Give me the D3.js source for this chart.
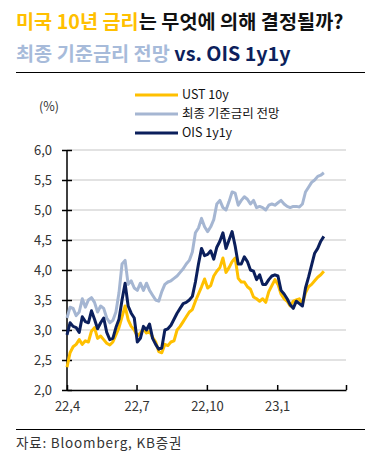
<!DOCTYPE html>
<html><head><meta charset="utf-8">
<script src="https://cdn.jsdelivr.net/npm/d3@7"></script>
<style>
html,body{margin:0;padding:0;background:#fff;}
svg{display:block;font-family:"Noto Sans CJK KR","Noto Sans",sans-serif;}
</style></head>
<body><svg id="c" width="376" height="452"></svg>
<script>
const dates = ["2022-04-01","2022-04-05","2022-04-09","2022-04-13","2022-04-17","2022-04-21","2022-04-25","2022-04-29",
"2022-05-03","2022-05-07","2022-05-11","2022-05-15","2022-05-19","2022-05-23","2022-05-27","2022-05-31",
"2022-06-04","2022-06-08","2022-06-12","2022-06-16","2022-06-20","2022-06-24","2022-06-28",
"2022-07-02","2022-07-06","2022-07-10","2022-07-14","2022-07-18","2022-07-22","2022-07-26","2022-07-30",
"2022-08-03","2022-08-07","2022-08-11","2022-08-15","2022-08-19","2022-08-23","2022-08-27","2022-08-31",
"2022-09-04","2022-09-08","2022-09-12","2022-09-16","2022-09-20","2022-09-24","2022-09-28",
"2022-10-02","2022-10-06","2022-10-10","2022-10-14","2022-10-18","2022-10-22","2022-10-26","2022-10-30",
"2022-11-03","2022-11-07","2022-11-11","2022-11-15","2022-11-19","2022-11-23","2022-11-27",
"2022-12-01","2022-12-05","2022-12-09","2022-12-13","2022-12-17","2022-12-21","2022-12-25","2022-12-29",
"2023-01-02","2023-01-06","2023-01-10","2023-01-14","2023-01-18","2023-01-22","2023-01-26","2023-01-30",
"2023-02-03","2023-02-07","2023-02-11","2023-02-15","2023-02-19","2023-02-23","2023-02-27","2023-03-03"];

const ust10y = [2.38,2.62,2.72,2.76,2.84,2.76,2.82,2.80,
2.98,3.04,2.86,2.90,2.84,2.78,2.75,2.80,
2.92,3.04,3.22,3.40,3.17,3.06,3.00,
2.90,2.95,3.02,2.95,2.98,2.88,2.80,2.64,
2.62,2.76,2.74,2.80,2.82,3.00,3.06,3.14,
3.22,3.30,3.34,3.48,3.60,3.72,3.85,
3.70,3.74,3.90,3.98,4.04,4.20,3.96,4.04,
4.14,4.20,3.86,3.80,3.80,3.72,3.68,
3.55,3.52,3.48,3.52,3.46,3.64,3.74,3.84,
3.76,3.60,3.52,3.48,3.40,3.48,3.50,3.52,
3.44,3.62,3.72,3.76,3.82,3.88,3.92,3.98];

const finalRate = [3.20,3.38,3.36,3.24,3.30,3.52,3.38,3.50,
3.54,3.46,3.30,3.40,3.36,3.20,3.12,3.16,
3.30,3.62,4.10,4.16,3.76,3.82,3.70,
3.66,3.78,3.66,3.78,3.66,3.58,3.50,3.48,
3.64,3.76,3.80,3.82,3.86,3.90,3.96,4.02,
4.10,4.16,4.30,4.62,4.70,4.86,4.72,
4.64,4.72,4.84,5.10,5.16,5.04,5.00,5.14,
5.30,5.28,5.08,5.16,5.22,5.18,5.10,
5.16,5.04,5.06,5.04,5.00,5.08,5.10,5.08,
5.12,5.16,5.10,5.06,5.04,5.06,5.06,5.05,
5.10,5.30,5.38,5.46,5.50,5.56,5.58,5.62];

const ois1y1y = [2.92,3.12,3.06,3.04,2.96,3.22,3.14,3.12,
3.32,3.18,3.02,3.12,3.20,2.96,2.84,2.86,
3.04,3.18,3.50,3.78,3.40,3.28,3.20,
2.80,2.86,3.06,3.00,3.10,2.86,2.76,2.68,
2.70,3.00,3.02,3.08,3.18,3.28,3.36,3.44,
3.46,3.50,3.56,3.80,4.10,4.36,4.24,
4.26,4.32,4.18,4.38,4.48,4.62,4.36,4.50,
4.64,4.40,4.10,4.10,4.22,4.14,4.00,
3.98,3.84,3.92,3.76,3.76,3.84,3.90,3.92,
3.90,3.66,3.60,3.52,3.42,3.36,3.48,3.44,
3.40,3.70,3.88,4.08,4.28,4.36,4.48,4.56];

const seriesNames = ["UST 10y","최종 기준금리 전망","OIS 1y1y"];
const seriesColors = ["#FFC000","#A5B6D2","#0B1F5C"];
const xTickDates = ["2022-04-01","2022-07-01","2022-10-01","2023-01-01","2023-04-01"];
const xTickLabels = ["22,4","22,7","22,10","23,1",""];
const yTicks = [2.0,2.5,3.0,3.5,4.0,4.5,5.0,5.5,6.0];
const yTickLabels = ["2,0","2,5","3,0","3,5","4,0","4,5","5,0","5,5","6,0"];

const parse = d3.timeParse("%Y-%m-%d");
const svg = d3.select("#c");

const x = d3.scaleTime().domain([parse("2022-04-01"), parse("2023-04-01")]).range([67, 346]);
const y = d3.scaleLinear().domain([2, 6]).range([390, 150]);

// Title
const t1 = svg.append("text").attr("x",16).attr("y",28.5).attr("font-size",19.7).attr("font-weight",700);
t1.append("tspan").attr("fill","#FFC000").text("미국 10년 금리");
t1.append("tspan").attr("fill","#111").text("는 무엇에 의해 결정될까?");
const t2 = svg.append("text").attr("x",16).attr("y",60.5).attr("font-size",19.7).attr("font-weight",700);
t2.append("tspan").attr("fill","#A7BBDA").text("최종 기준금리 전망 ");
t2.append("tspan").attr("fill","#0D1F5C").text("vs. OIS 1y1y");
svg.append("line").attr("x1",16).attr("x2",365).attr("y1",72.5).attr("y2",72.5).attr("stroke","#000").attr("stroke-width",1);

// gridlines
svg.append("g").selectAll("line").data(yTicks.filter(v=>v>2)).join("line")
  .attr("x1",67).attr("x2",346).attr("y1",d=>y(d)).attr("y2",d=>y(d))
  .attr("stroke","#D9D9D9").attr("stroke-width",1.5);

// y axis
const yAxis = svg.append("g").attr("transform","translate(67,0)")
  .call(d3.axisLeft(y).tickValues(yTicks).tickSize(5).tickPadding(10)
    .tickFormat((d,i)=>yTickLabels[i]));
yAxis.select(".domain").remove();
yAxis.selectAll(".tick line").attr("x1",5).attr("stroke","#000").attr("stroke-width",1.5);
yAxis.selectAll("text").attr("font-size",13).attr("fill","#333").attr("font-family","'Noto Sans CJK KR',sans-serif");
svg.append("line").attr("x1",67).attr("x2",67).attr("y1",y(6)).attr("y2",y(2)).attr("stroke","#000").attr("stroke-width",1.5);

// x axis
const xAxis = svg.append("g").attr("transform","translate(0,390)")
  .call(d3.axisBottom(x).tickValues(xTickDates.map(parse)).tickSizeInner(-5).tickSizeOuter(0).tickPadding(12)
    .tickFormat((d,i)=>xTickLabels[i]));
xAxis.select(".domain").attr("stroke","#000").attr("stroke-width",1.5);
xAxis.selectAll(".tick line").attr("stroke","#000").attr("stroke-width",1.5);
xAxis.selectAll("text").attr("font-size",13).attr("fill","#333").attr("font-family","'Noto Sans CJK KR',sans-serif");

svg.append("text").attr("x",49).attr("y",111).attr("text-anchor","middle").attr("font-size",12.5).attr("fill","#333").text("(%)");

// lines
const data = [ust10y, finalRate, ois1y1y];
const line = d3.line().x((d,i)=>x(parse(dates[i]))).y(d=>y(d));
svg.append("g").selectAll("path").data(data).join("path")
  .attr("d", d=>line(d)).attr("fill","none")
  .attr("stroke",(d,i)=>seriesColors[i]).attr("stroke-width",3)
  .attr("stroke-linejoin","round");

// legend
const lg = svg.append("g").selectAll("g").data(seriesNames).join("g")
  .attr("transform",(d,i)=>`translate(135,${95+i*19})`);
lg.append("line").attr("x1",0).attr("x2",43).attr("stroke",(d,i)=>seriesColors[i]).attr("stroke-width",3);
lg.append("text").attr("x",47).attr("dy","0.35em").attr("font-size",12.5).attr("fill","#111").text(d=>d);

// footer
svg.append("line").attr("x1",16).attr("x2",365).attr("y1",429.5).attr("y2",429.5).attr("stroke","#000").attr("stroke-width",1);
svg.append("text").attr("x",16).attr("y",447.5).attr("font-size",13.5).attr("letter-spacing",0.8).attr("fill","#333").text("자료: Bloomberg, KB증권");
</script></body></html>
